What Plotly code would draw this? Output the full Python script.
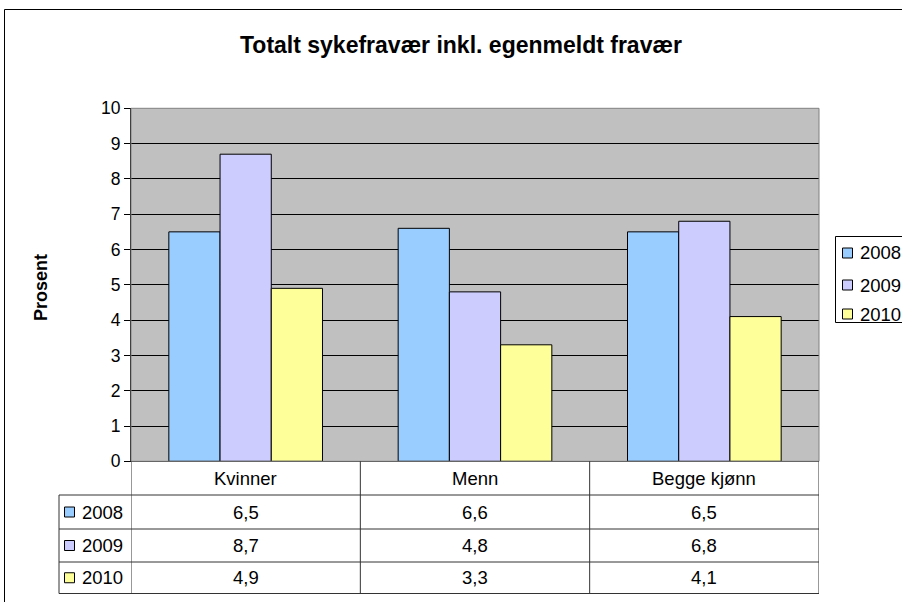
import plotly.graph_objects as go

categories = ["Kvinner", "Menn", "Begge kjønn"]
years = ["2008", "2009", "2010"]
values_2008 = [6.5, 6.6, 6.5]
values_2009 = [8.7, 4.8, 6.8]
values_2010 = [4.9, 3.3, 4.1]
series = [values_2008, values_2009, values_2010]
colors = ["#99CCFF", "#CCCCFF", "#FFFF99"]
y_ticks = list(range(0, 11))
title_text = "Totalt sykefravær inkl. egenmeldt fravær"
y_title = "Prosent"

W, H = 902, 602
FONT = "Liberation Sans, Arial, sans-serif"


def px(x):
    return x / W


def py(y):
    return 1 - y / H


fig = go.Figure()
for name, vals, col in zip(years, series, colors):
    fig.add_trace(go.Bar(
        x=categories, y=vals, name=name,
        marker=dict(color=col, line=dict(color="#000000", width=1)),
        showlegend=False, hoverinfo="x+y+name",
    ))

plot_left, plot_right = 131, 819
plot_top, plot_bottom = 108.3, 461.3

shapes = []
annotations = []

# plot area border (gray)
shapes.append(dict(type="rect", xref="paper", yref="paper",
                   x0=px(plot_left), x1=px(plot_right), y0=py(plot_bottom), y1=py(plot_top),
                   line=dict(color="#808080", width=1), layer="above"))

# outer chart border
shapes.append(dict(type="rect", xref="paper", yref="paper",
                   x0=px(4.5), x1=px(910), y0=py(612), y1=py(9.5),
                   line=dict(color="#000000", width=1)))

# data table
row_bounds = [plot_bottom, 495, 529, 562, 593.5]
tbl_left = 59
line_col = "#333333"
for yb in row_bounds[1:]:
    shapes.append(dict(type="line", xref="paper", yref="paper",
                       x0=px(tbl_left), x1=px(plot_right), y0=py(yb), y1=py(yb),
                       line=dict(color=line_col, width=1)))
n = len(categories)
for k in range(n + 1):
    xb = k - 0.5
    shapes.append(dict(type="line", xref="x", yref="paper",
                       x0=xb, x1=xb, y0=py(row_bounds[-1]), y1=py(row_bounds[0]),
                       line=dict(color=line_col, width=1)))
shapes.append(dict(type="line", xref="paper", yref="paper",
                   x0=px(tbl_left), x1=px(tbl_left), y0=py(row_bounds[-1]), y1=py(row_bounds[1]),
                   line=dict(color=line_col, width=1)))

tfont = dict(family=FONT, size=18.5, color="#000000")
for c in categories:
    annotations.append(dict(x=c, y=py((row_bounds[0] + row_bounds[1]) / 2), xref="x", yref="paper",
                            text=c, showarrow=False, font=tfont, xanchor="center", yanchor="middle"))
for r, (name, vals, col) in enumerate(zip(years, series, colors)):
    yc = (row_bounds[r + 1] + row_bounds[r + 2]) / 2
    shapes.append(dict(type="rect", xref="paper", yref="paper",
                       x0=px(64.5), x1=px(74.5), y0=py(yc + 5), y1=py(yc - 5),
                       fillcolor=col, line=dict(color="#000000", width=1)))
    annotations.append(dict(x=px(80), y=py(yc), xref="paper", yref="paper", text=name,
                            showarrow=False, font=tfont, xanchor="left", yanchor="middle"))
    for c, v in zip(categories, vals):
        annotations.append(dict(x=c, y=py(yc), xref="x", yref="paper",
                                text=f"{v:.1f}".replace(".", ","), showarrow=False, font=tfont,
                                xanchor="center", yanchor="middle"))

# legend (manual, clipped at right edge like the reference)
leg_left, leg_top, leg_bottom = 835.5, 236.5, 322.5
shapes.append(dict(type="rect", xref="paper", yref="paper",
                   x0=px(leg_left), x1=px(960), y0=py(leg_bottom), y1=py(leg_top),
                   fillcolor="#FFFFFF", line=dict(color="#000000", width=1)))
leg_centers = [253, 285, 314]
for name, col, yc in zip(years, colors, leg_centers):
    shapes.append(dict(type="rect", xref="paper", yref="paper",
                       x0=px(842.5), x1=px(852.5), y0=py(yc + 5), y1=py(yc - 5),
                       fillcolor=col, line=dict(color="#000000", width=1)))
    annotations.append(dict(x=px(858), y=py(yc), xref="paper", yref="paper", text=name,
                            showarrow=False, font=tfont, xanchor="left", yanchor="middle"))

annotations.append(dict(x=px(461), y=py(45), xref="paper", yref="paper",
                        text=f"<b>{title_text}</b>", showarrow=False,
                        font=dict(family=FONT, size=23, color="#000000"),
                        xanchor="center", yanchor="middle"))
annotations.append(dict(x=px(41), y=py(288), xref="paper", yref="paper",
                        text=f"<b>{y_title}</b>", showarrow=False, textangle=-90,
                        font=dict(family=FONT, size=18, color="#000000"),
                        xanchor="center", yanchor="middle"))

fig.update_layout(
    width=W, height=H,
    margin=dict(l=0, r=0, t=0, b=0, pad=0, autoexpand=False),
    paper_bgcolor="#FFFFFF",
    plot_bgcolor="#C0C0C0",
    barmode="group", bargap=0.33, bargroupgap=0,
    font=dict(family=FONT, size=17, color="#000000"),
    shapes=shapes, annotations=annotations,
    showlegend=False,
    xaxis=dict(domain=[px(plot_left), px(plot_right)], range=[-0.5, n - 0.5],
               showticklabels=False, ticks="", showgrid=False, zeroline=False, automargin=False,
               showline=True, linecolor="#000000", linewidth=1, fixedrange=True),
    yaxis=dict(domain=[py(plot_bottom), py(plot_top)], range=[0, 10], automargin=False,
               tickvals=y_ticks, ticktext=[str(t) for t in y_ticks],
               ticks="outside", ticklen=6, tickcolor="#000000", tickwidth=1,
               tickfont=dict(family=FONT, size=17.5, color="#000000"),
               showgrid=True, gridcolor="#000000", gridwidth=1, zeroline=False,
               showline=True, linecolor="#000000", linewidth=1, fixedrange=True),
)

fig.write_html("out.html", config={"displayModeBar": False},
               post_script="document.body.style.margin='0';")
